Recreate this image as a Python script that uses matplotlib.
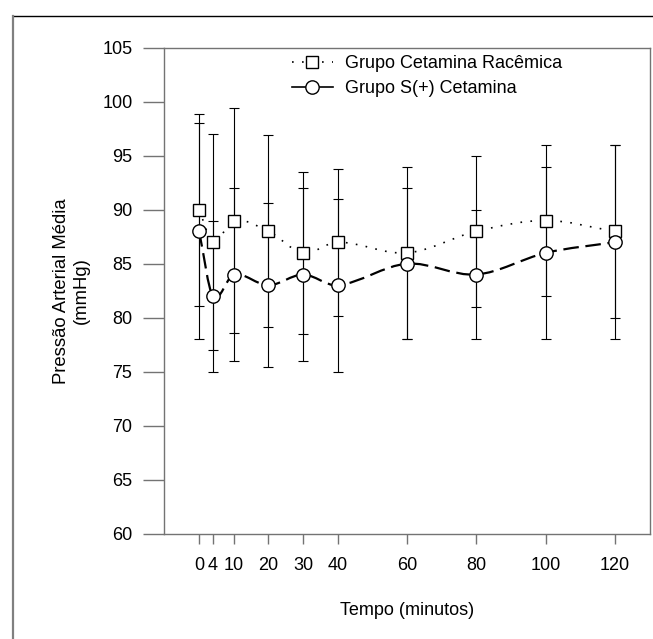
#!/usr/bin/env python3
"""Pressão arterial média: cetamina racêmica vs S(+) cetamina."""
import matplotlib
matplotlib.use("Agg")
import matplotlib.pyplot as plt
from matplotlib.lines import Line2D
from matplotlib.path import Path
import matplotlib.patches as mpatches
import numpy as np

plt.rcParams["font.family"] = ["Liberation Sans", "DejaVu Sans"]

tempo = [0, 4, 10, 20, 30, 40, 60, 80, 100, 120]
tick_labels = ["0", "4", "10", "20", "30", "40", "60", "80", "100", "120"]

# Grupo Cetamina Racêmica
rac_mean = [90, 87, 89, 88, 86, 87, 86, 88, 89, 88]
rac_sd   = [8.9, 10, 10.4, 8.9, 7.5, 6.8, 8, 7, 7, 8]

# Grupo S(+) Cetamina
sp_mean = [88, 82, 84, 83, 84, 83, 85, 84, 86, 87]
sp_sd   = [10, 7, 8, 7.6, 8, 8, 7, 6, 8, 9]

W, H, DPI = 653, 639, 100


def smooth_path(x, y):
    # cubic Hermite curve through the points (how the original software draws the line)
    x = np.asarray(x, float); y = np.asarray(y, float)
    n = len(x)
    m = np.empty(n)
    m[0] = (y[1] - y[0]) / (x[1] - x[0])
    m[-1] = (y[-1] - y[-2]) / (x[-1] - x[-2])
    for i in range(1, n - 1):
        m[i] = (y[i + 1] - y[i - 1]) / (x[i + 1] - x[i - 1])
    verts = [(x[0], y[0])]
    codes = [Path.MOVETO]
    for i in range(n - 1):
        h = x[i + 1] - x[i]
        verts += [(x[i] + h / 3, y[i] + m[i] * h / 3),
                  (x[i + 1] - h / 3, y[i + 1] - m[i + 1] * h / 3),
                  (x[i + 1], y[i + 1])]
        codes += [Path.CURVE4] * 3
    return Path(verts, codes)


def main():
    fig = plt.figure(figsize=(W / DPI, H / DPI), dpi=DPI)
    ax = fig.add_axes([164.4 / W, 1 - 533.7 / H, 485.3 / W, 486.0 / H])

    # page frame lines
    fig.add_artist(Line2D([13 / W, 1], [1 - 15.5 / H, 1 - 15.5 / H],
                          transform=fig.transFigure, color="black", lw=1.0))
    fig.add_artist(Line2D([13 / W, 13 / W], [0, 1 - 15.5 / H],
                          transform=fig.transFigure, color="0.5", lw=1.6))

    eb_kw = dict(fmt="none", ecolor="black", elinewidth=0.8,
                 capsize=3.3, capthick=0.8, zorder=2)
    ax.errorbar(tempo, rac_mean, yerr=rac_sd, **eb_kw)
    ax.errorbar(tempo, sp_mean, yerr=sp_sd, **eb_kw)

    ax.add_patch(mpatches.PathPatch(smooth_path(tempo, rac_mean), fill=False,
                                    edgecolor="black", lw=1.2,
                                    linestyle=(0, (1, 5)), zorder=3))
    ax.add_patch(mpatches.PathPatch(smooth_path(tempo, sp_mean), fill=False,
                                    edgecolor="black", lw=1.6,
                                    linestyle=(0, (7, 3)), zorder=3))

    ax.plot(tempo, rac_mean, ls="none", marker="s", ms=8.2, mfc="white",
            mec="black", mew=1.0, zorder=4)
    ax.plot(tempo, sp_mean, ls="none", marker="o", ms=9.6, mfc="white",
            mec="black", mew=1.0, zorder=4)

    ax.set_xlim(-10, 130)
    ax.set_ylim(60, 105)
    ax.set_xticks(tempo)
    ax.set_xticklabels(tick_labels)
    ax.set_yticks(np.arange(60, 106, 5))

    for s in ax.spines.values():
        s.set_color("0.45")
        s.set_linewidth(1.0)
    ax.tick_params(axis="y", direction="out", length=15, width=1.0,
                   color="0.45", labelsize=13, pad=8)
    ax.tick_params(axis="x", direction="out", length=7, width=1.0,
                   color="0.45", labelsize=13, pad=10)

    ax.set_ylabel("Pressão Arterial Média\n(mmHg)", fontsize=13.3, labelpad=9)
    ax.set_xlabel("Tempo (minutos)", fontsize=13, labelpad=20)

    handles = [
        Line2D([], [], color="black", lw=1.2, ls=(0, (1, 5)), marker="s",
               ms=8.2, mfc="white", mec="black", mew=1.0),
        Line2D([], [], color="black", lw=1.2, ls="-", marker="o",
               ms=9.6, mfc="white", mec="black", mew=1.0),
    ]
    ax.legend(handles, ["Grupo Cetamina Racêmica", "Grupo S(+) Cetamina"],
              loc="upper left", bbox_to_anchor=(0.262, 0.985), frameon=False,
              fontsize=13, numpoints=1, handlelength=2.3, handletextpad=0.65,
              borderpad=0, borderaxespad=0, labelspacing=0.45)

    fig.savefig("out.png", dpi=DPI, facecolor="white")
    plt.close(fig)


if __name__ == "__main__":
    main()
